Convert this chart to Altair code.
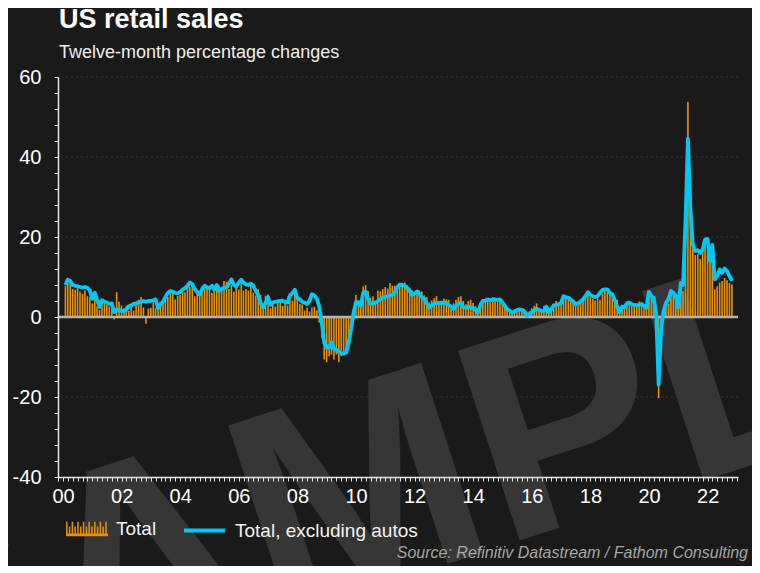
import altair as alt
import pandas as pd

FONT = "Liberation Sans"
BG = "#1a1a1a"
BAR = "#E8900A"
LINE = "#00C8F2"

# Twelve-month % change, total retail sales (bars), Jan 2000 .. Oct 2022
total = [
    7.8, 8.6, 8.9, 7.0, 6.8, 7.2, 6.4, 5.8, 6.6, 5.2, 4.9, 3.4,          # 2000
    4.6, 2.6, 1.8, 3.5, 3.4, 3.0, 2.6, 2.9, -0.6, 6.2, 3.8, 2.9,         # 2001
    2.2, 2.8, 1.5, 2.9, 1.6, 3.2, 4.3, 5.0, 2.4, -1.7, 2.1, 2.3,         # 2002
    3.6, 2.2, 2.3, 3.2, 3.5, 4.4, 5.0, 6.3, 6.0, 4.4, 5.3, 5.5,          # 2003
    6.8, 6.2, 7.8, 7.5, 8.2, 5.2, 5.8, 6.4, 7.6, 8.1, 7.3, 7.6,          # 2004
    6.0, 6.6, 7.0, 7.8, 7.2, 9.0, 8.8, 7.0, 8.0, 6.3, 7.5, 6.9,          # 2005
    9.4, 6.6, 7.0, 6.6, 7.8, 6.1, 5.4, 6.9, 5.5, 2.4, 5.3, 5.6,          # 2006
    2.2, 3.2, 2.6, 3.6, 4.0, 2.8, 3.6, 2.9, 4.2, 4.1, 6.2, 4.1,          # 2007
    3.3, 3.1, 1.6, 2.4, 1.4, 2.4, 2.6, 1.6, -1.4, -5.2, -10.6, -11.3,    # 2008
    -9.8, -9.4, -10.6, -9.4, -11.3, -9.8, -9.4, -8.1, -7.7, -1.5, 1.8, 5.5,  # 2009
    4.0, 3.8, 7.6, 8.0, 6.5, 4.8, 5.2, 4.0, 6.6, 6.4, 7.0, 7.5,          # 2010
    7.1, 8.5, 7.8, 7.8, 7.6, 8.0, 8.5, 8.6, 7.9, 7.3, 6.7, 6.2,          # 2011
    5.8, 6.6, 6.4, 5.4, 5.0, 3.6, 4.1, 4.7, 5.2, 4.0, 3.9, 4.6,          # 2012
    4.4, 4.3, 2.6, 3.4, 4.3, 5.0, 5.2, 4.0, 3.2, 4.0, 4.3, 3.5,          # 2013
    2.7, 1.8, 3.5, 4.2, 4.5, 4.4, 4.0, 5.0, 4.3, 4.2, 4.6, 3.8,          # 2014
    2.4, 1.6, 1.4, 0.8, 1.8, 2.1, 2.2, 2.0, 2.0, 1.4, 1.4, 2.2,          # 2015
    2.8, 3.4, 1.8, 1.7, 2.8, 2.8, 2.2, 2.1, 2.8, 4.0, 3.6, 4.0,          # 2016
    5.5, 4.5, 4.8, 4.4, 3.9, 2.8, 3.1, 3.4, 4.6, 5.0, 6.0, 5.1,          # 2017
    4.6, 4.1, 4.8, 4.3, 5.8, 6.5, 6.3, 6.4, 4.8, 4.6, 4.3, 1.6,          # 2018
    2.2, 2.1, 3.6, 3.5, 3.2, 3.3, 3.4, 3.9, 3.8, 3.2, 3.3, 5.4,          # 2019
    4.8, 4.5, -5.6, -20.3, -6.2, 1.5, 2.9, 3.3, 5.7, 5.5, 4.3, 3.0,      # 2020
    9.0, 6.5, 28.0, 53.8, 28.5, 18.0, 15.5, 15.7, 14.5, 16.5, 18.5, 17.0,  # 2021
    13.5, 15.5, 6.9, 7.7, 8.6, 9.0, 9.8, 9.2, 8.5, 8.1,                  # 2022
]

# Twelve-month % change, retail sales excluding autos (line)
ex_autos = [
    8.0, 9.3, 9.0, 8.0, 7.8, 7.7, 7.5, 7.3, 7.5, 7.3, 6.6, 4.5,          # 2000
    6.1, 4.3, 2.5, 4.2, 3.8, 3.6, 3.3, 3.4, 1.2, 1.9, 1.8, 1.5,          # 2001
    1.5, 1.8, 2.7, 2.9, 3.3, 3.4, 3.6, 3.8, 4.0, 3.8, 4.0, 4.0,          # 2002
    4.2, 4.4, 2.2, 3.2, 3.8, 5.0, 6.0, 6.5, 6.3, 6.0, 5.9, 6.2,          # 2003
    6.9, 7.2, 7.8, 8.6, 8.2, 7.0, 6.2, 5.6, 7.0, 7.8, 7.4, 7.2,          # 2004
    7.8, 6.8, 8.0, 6.5, 7.0, 7.3, 7.4, 8.4, 9.4, 8.0, 7.6, 8.6,          # 2005
    9.3, 8.6, 8.1, 8.0, 8.3, 7.8, 6.5, 5.5, 3.4, 2.3, 3.5, 5.0,          # 2006
    3.0, 3.6, 3.8, 3.9, 4.0, 4.1, 3.8, 3.6, 5.4, 6.0, 6.8, 4.6,          # 2007
    4.4, 3.8, 3.6, 3.2, 4.0, 5.7, 5.4, 4.6, 2.5, -1.5, -6.4, -7.7,       # 2008
    -7.6, -6.3, -7.9, -8.2, -8.7, -9.0, -9.2, -8.9, -6.5, -3.0, 1.0, 3.7,  # 2009
    3.7, 2.8, 6.0, 6.4, 4.5, 3.3, 3.4, 3.6, 4.0, 4.4, 4.9, 5.0,          # 2010
    5.2, 5.3, 5.5, 6.2, 7.5, 8.1, 8.0, 7.8, 7.3, 6.5, 5.5, 5.9,          # 2011
    6.4, 5.8, 5.0, 4.5, 3.5, 2.3, 2.8, 3.4, 3.5, 3.4, 3.6, 3.5,          # 2012
    3.5, 3.0, 2.6, 2.0, 2.8, 3.3, 3.5, 2.4, 2.3, 2.6, 2.4, 2.2,          # 2013
    1.8, 1.1, 3.0, 4.0, 4.1, 4.4, 4.2, 4.3, 4.4, 4.3, 4.4, 3.6,          # 2014
    2.8, 1.9, 1.6, 1.1, 1.4, 1.7, 1.9, 1.8, 1.3, 0.3, 0.7, 1.2,          # 2015
    1.6, 2.1, 1.8, 1.6, 1.5, 2.6, 1.1, 2.0, 2.9, 3.0, 3.2, 3.5,          # 2016
    5.2, 5.0, 4.8, 4.4, 3.9, 3.2, 3.4, 3.9, 4.4, 5.2, 6.2, 5.5,          # 2017
    5.2, 5.0, 5.2, 6.0, 6.8, 6.9, 6.9, 6.0, 5.7, 4.2, 2.6, 1.1,          # 2018
    2.6, 2.4, 3.4, 3.6, 3.2, 3.0, 2.9, 3.0, 3.2, 2.8, 2.3, 6.3,          # 2019
    5.2, 4.8, 0.5, -16.9, -3.0, 1.5, 3.5, 4.5, 6.5, 6.0, 5.2, 2.3,       # 2020
    8.5, 8.0, 24.0, 44.6, 27.0, 18.0, 16.5, 16.7, 16.0, 16.9, 19.4, 19.5,  # 2021
    14.0, 18.0, 9.4, 10.2, 11.9, 11.0, 12.1, 11.5, 10.2, 9.0,            # 2022
]

series_names = ["Total", "Total, excluding autos"]
grid_values = [-20, 20, 40, 60]
zero_value = [0]
title_text = "US retail sales"
subtitle_text = "Twelve-month percentage changes"
source_text = "Source: Refinitiv Datastream / Fathom Consulting"
watermark_text = "SAMPLE"

# month-end dates
dates = pd.date_range("2000-02-01", periods=len(total), freq="MS") - pd.Timedelta(days=1)
df = pd.DataFrame({
    "date": dates,
    "total": total,
    "ex_autos": ex_autos,
    "s_total": series_names[0],
    "s_ex": series_names[1],
})
grid_df = pd.DataFrame({"g": grid_values})
zero_df = pd.DataFrame({"z": zero_value})

xscale = alt.Scale(
    domain=[alt.DateTime(year=2000, month=1, date=1),
            alt.DateTime(year=2022, month=11, date=13)],
    nice=False,
)
yscale = alt.Scale(domain=[-40, 60], nice=False, zero=False)

# legend symbol for the bar series: a block of thin vertical stripes
def stripes_path(n=15):
    parts = []
    step = 2.0 / n
    for i in range(n):
        x0 = -1 + i * step
        x1 = x0 + step * 0.55
        top = -0.34 if i % 2 == 0 else -0.12
        parts.append(f"M{x0:.3f},0.34L{x0:.3f},{top}L{x1:.3f},{top}L{x1:.3f},0.34Z")
    parts.append("M-1,0.34L-1,0.22L1,0.22L1,0.34Z")
    return "".join(parts)

x_axis = alt.Axis(
    title=None,
    tickCount={"interval": "month", "step": 2},
    labelExpr="(month(datum.value) == 0 && year(datum.value) % 2 == 0) ? timeFormat(datum.value, '%y') : ''",
    labelOverlap=False,
    labelFlush=False,
    labelFontSize=20,
    labelColor="#ffffff",
    labelFont=FONT,
    labelPadding=5,
    tickSize=4,
    tickColor="#e6e6e6",
    tickWidth=1,
    domainColor="#e6e6e6",
    domainWidth=1.5,
    grid=False,
    zindex=1,
)
y_axis = alt.Axis(
    title=None,
    values=list(range(-40, 61, 4)),
    labelExpr="datum.value % 20 == 0 ? '' + datum.value : ''",
    labelOverlap=False,
    labelFlush=False,
    labelFontSize=20,
    labelColor="#ffffff",
    labelFont=FONT,
    labelPadding=13,
    tickSize=4,
    tickColor="#e6e6e6",
    tickWidth=1,
    domainColor="#e6e6e6",
    domainWidth=1.5,
    grid=False,
    zindex=1,
)

watermark = alt.Chart(pd.DataFrame({"t": [watermark_text]})).mark_text(
    font=FONT, fontSize=290, fontWeight="bold", angle=342,
    align="center", baseline="alphabetic", color="#363636",
).encode(text="t:N", x=alt.value(405), y=alt.value(482))

grid = alt.Chart(grid_df).mark_rule(
    color="#333333", strokeWidth=1, strokeDash=[2, 3]
).encode(y=alt.Y("g:Q", scale=yscale, axis=y_axis))

bars = alt.Chart(df).mark_bar(width=1.6).encode(
    x=alt.X("date:T", scale=xscale, axis=x_axis),
    y=alt.Y("total:Q", scale=yscale, axis=y_axis),
    fill=alt.Fill(
        "s_total:N",
        scale=alt.Scale(domain=[series_names[0]], range=[BAR]),
        legend=alt.Legend(
            title=None, orient="none", legendX=8, legendY=431,
            symbolType=stripes_path(), symbolSize=1764, symbolStrokeWidth=0,
            labelFontSize=19, labelColor="#f2f2f2", labelFont=FONT,
            labelOffset=8, padding=0, labelLimit=400,
        ),
    ),
)

zero = alt.Chart(zero_df).mark_rule(color="#b4b4b4", strokeWidth=2.5).encode(
    y=alt.Y("z:Q", scale=yscale, axis=y_axis)
)

line = alt.Chart(df).mark_line(strokeWidth=3.8, strokeJoin="round").encode(
    x=alt.X("date:T", scale=xscale, axis=x_axis),
    y=alt.Y("ex_autos:Q", scale=yscale, axis=y_axis),
    stroke=alt.Stroke(
        "s_ex:N",
        scale=alt.Scale(domain=[series_names[1]], range=[LINE]),
        legend=alt.Legend(
            title=None, orient="none", legendX=124, legendY=431,
            symbolType="stroke", symbolSize=1681, symbolStrokeWidth=4,
            labelFontSize=19, labelColor="#f2f2f2", labelFont=FONT,
            labelOffset=8, padding=0, labelLimit=400,
        ),
    ),
)

source = alt.Chart(pd.DataFrame({"t": [source_text]})).mark_text(
    font=FONT, fontSize=16, fontStyle="italic", align="right",
    baseline="alphabetic", color="#a6a6a6",
).encode(text="t:N", x=alt.value(690), y=alt.value(481))

chart = alt.layer(watermark, grid, bars, zero, line, source).properties(
    width=680,
    height=400,
    background=BG,
    autosize="none",
    padding={"left": 50, "top": 69, "right": 14, "bottom": 89},
    title=alt.Title(
        title_text,
        subtitle=subtitle_text,
        anchor="start",
        frame="group",
        offset=4,
        dx=1,
        font=FONT,
        fontSize=27,
        fontWeight="bold",
        color="#ffffff",
        subtitleFont=FONT,
        subtitleFontSize=18,
        subtitleColor="#eeeeee",
        subtitlePadding=10,
    ),
).configure_view(stroke=None)

chart.save("out.html", embed_options={"renderer": "svg", "actions": False})
